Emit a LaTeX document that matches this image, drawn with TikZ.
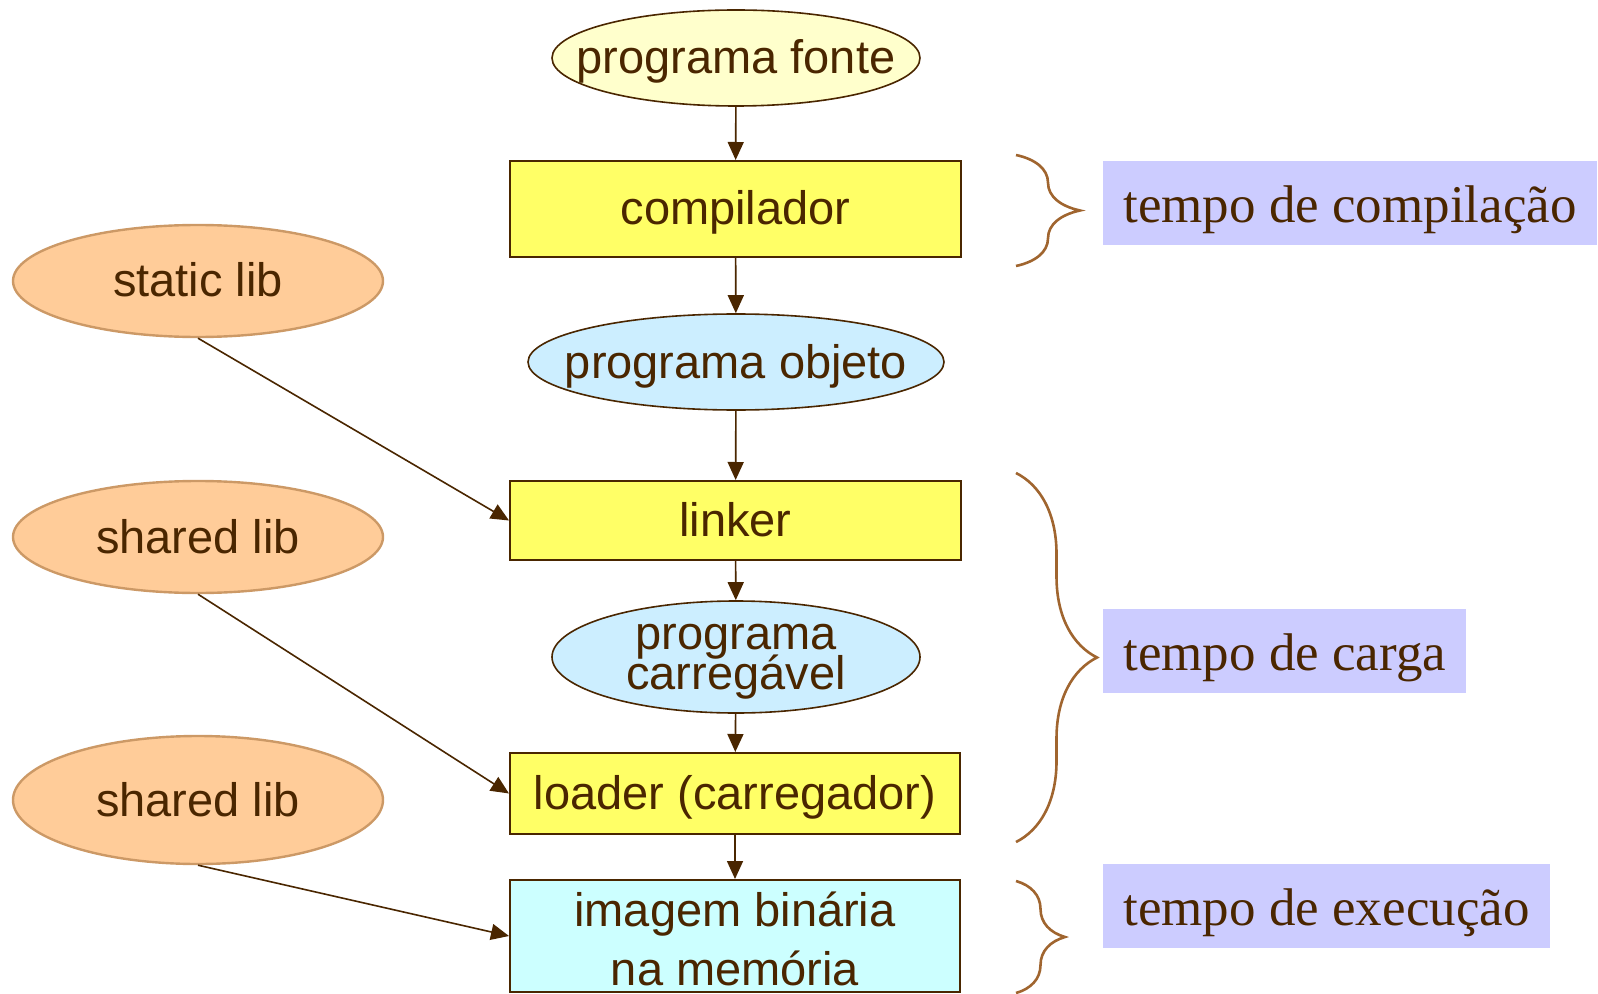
\documentclass[tikz,border=0pt]{standalone}
\usepackage{fontspec}
\setmainfont{Liberation Serif}
\setsansfont{Liberation Sans}
\usepackage{xcolor}
\usepackage{tikz}
\usetikzlibrary{arrows.meta}
\usetikzlibrary{shapes.geometric, decorations.pathreplacing}

\definecolor{inkbrown}{HTML}{4A2600}
\definecolor{bracebrown}{HTML}{A0652F}
\definecolor{boxyellow}{HTML}{FFFF66}
\definecolor{paleyellow}{HTML}{FFFFCC}
\definecolor{paleblue}{HTML}{CCEEFF}
\definecolor{palecyan}{HTML}{CCFFFF}
\definecolor{libfill}{HTML}{FFCC99}
\definecolor{libline}{HTML}{CC9966}
\definecolor{lavender}{HTML}{CCCCFF}

\tikzset{
    stagebox/.style={draw=inkbrown, line width=1pt, rectangle, inner sep=0pt,
        minimum width=225.5pt, minimum height=48pt, text=inkbrown,
        text height=16.5pt, text depth=0.5pt,
        font={\sffamily\fontsize{23.5}{29.5}\selectfont\lineskiplimit=-20pt}, align=center},
    fileell/.style={draw=inkbrown, line width=0.8pt, ellipse, inner sep=-15pt,
        text=inkbrown, text height=16.5pt, text depth=0.5pt,
        font={\sffamily\fontsize{23.5}{20}\selectfont\lineskiplimit=-20pt}, align=center},
    libell/.style={fileell, draw=libline, line width=1.2pt, fill=libfill,
        minimum width=185pt, minimum height=56pt},
    phasetag/.style={fill=lavender, anchor=west, inner xsep=10pt, inner ysep=0pt,
        minimum height=42pt, text=inkbrown, text height=20pt, text depth=0.8pt,
        font=\rmfamily\fontsize{26.5}{30}\selectfont},
    flow/.style={draw=inkbrown, line width=0.8pt, -{Triangle[length=9pt,width=8pt]}},
    phasebrace/.style={draw=bracebrown, line width=1.3pt, decorate,
        decoration={brace, amplitude=#1}}
}

\begin{document}
\begin{tikzpicture}[x=0.5pt, y=-0.5pt]
    \useasboundingbox (0,0) rectangle (1598,994);

    % main chain
    \node[fileell, fill=paleyellow, minimum width=184pt, minimum height=48pt] (fonte) at (736,58) {programa fonte};
    \node[stagebox, fill=boxyellow] (compilador) at (735.5,209) {compilador};
    \node[fileell, fill=paleblue, minimum width=208pt, minimum height=48pt] (objeto) at (736,362) {programa objeto};
    \node[stagebox, fill=boxyellow, minimum height=39.5pt] (linker) at (735.5,520.5) {linker};
    \node[fileell, fill=paleblue, minimum width=184pt, minimum height=56pt,
        text height=37pt, text depth=5pt] (carregavel) at (736,657) {programa\\carregável};
    \node[stagebox, fill=boxyellow, minimum width=225pt, minimum height=40.5pt] (loader) at (735,793.5) {loader (carregador)};
    \node[stagebox, fill=palecyan, minimum width=225pt, minimum height=56pt,
        text height=49pt, text depth=0pt] (imagem) at (735,936) {imagem binária\\na memória};

    % libraries
    \node[libell] (static) at (198,281) {static lib};
    \node[libell] (shared) at (198,537) {shared lib};
    \node[libell, minimum height=64pt] (sharedrun) at (198,800) {shared lib};

    \draw[flow] (fonte) -- (compilador);
    \draw[flow] (compilador) -- (objeto);
    \draw[flow] (objeto) -- (linker);
    \draw[flow] (linker) -- (carregavel);
    \draw[flow] (carregavel) -- (loader);
    \draw[flow] (loader) -- (imagem);
    \draw[flow] (static.south) -- (linker.west);
    \draw[flow] (shared.south) -- (loader.west);
    \draw[flow] (sharedrun.south) -- (imagem.west);

    % phases
    \coordinate (comptop) at (1016,155);
    \coordinate (compbot) at (1016,266);
    \coordinate (cargatop) at (1016,473);
    \coordinate (cargabot) at (1016,842);
    \coordinate (exectop) at (1016,881);
    \coordinate (execbot) at (1016,993);
    \draw[phasebrace=32pt] (comptop) -- (compbot);
    \draw[phasebrace=40.5pt] (cargatop) -- (cargabot);
    \draw[phasebrace=24.5pt] (exectop) -- (execbot);

    \node[phasetag] (tcomp) at (1103,203) {tempo de compilação};
    \node[phasetag] (tcarga) at (1103,651) {tempo de carga};
    \node[phasetag] (texec) at (1103,906) {tempo de execução};
\end{tikzpicture}
\end{document}
